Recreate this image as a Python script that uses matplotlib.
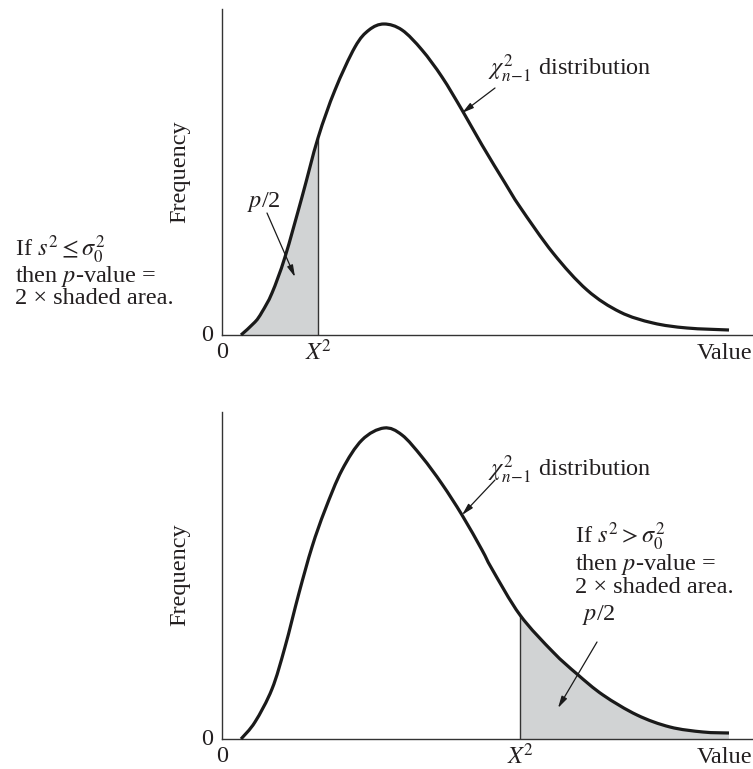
import matplotlib
matplotlib.use('Agg')
import matplotlib.pyplot as plt
import matplotlib.transforms as mtransforms
from matplotlib.path import Path
from matplotlib.patches import PathPatch
import numpy as np

W, H = 753, 769

# Curve samples (x = value units, y = frequency units)
top_x = [1.9, 3.3, 4.0, 5.0, 6.3, 8.0, 9.6, 11.3, 13.3, 14.7, 16.2, 18.0, 20.0,
         22.0, 24.0, 26.0, 28.3, 29.8, 33.1, 36.5, 39.8, 43.1, 46.5, 50.7]
top_y = [0.0, 1.3, 2.3, 4.2, 7.8, 13.8, 19.7, 24.5, 28.8, 30.5, 31.1, 30.5, 28.5,
         25.8, 22.5, 19.0, 15.2, 12.8, 8.2, 4.5, 2.3, 1.2, 0.7, 0.5]
top_crit = 9.6

bot_x = [1.9, 3.3, 5.0, 6.3, 7.7, 9.0, 10.3, 12.0, 14.0, 16.2, 18.0, 20.0, 22.0,
         24.0, 26.0, 27.0, 29.8, 33.1, 35.5, 38.1, 41.5, 44.8, 48.1, 50.7]
bot_y = [0.0, 1.7, 5.0, 9.2, 14.6, 19.2, 22.9, 26.9, 29.9, 31.1, 30.4, 28.2, 25.5,
         22.4, 18.9, 17.0, 12.4, 8.7, 6.5, 4.4, 2.4, 1.2, 0.7, 0.6]
bot_crit = 29.8

x_tick_labels = ['0', '$X^{\\!2}$']
x_axis_label = 'Value'
y_axis_label = 'Frequency'
dist_label = r'$\chi^2_{n\!-\!1}$ distribution'
area_label = '$p$/2'
left_note = ['If $s^2 \\leq \\sigma_0^2$', 'then $p$-value =', '2 \u00d7 shaded area.']
right_note = ['If $s^2 > \\sigma_0^2$', 'then $p$-value =', '2 \u00d7 shaded area.']

plt.rcParams['font.family'] = ['Liberation Serif', 'DejaVu Serif']
plt.rcParams['mathtext.fontset'] = 'stix'
FS = 17.5
TXT = '#231f20'
SHADE = '#d1d3d4'

fig = plt.figure(figsize=(W / 100, H / 100), dpi=100)


def fy(py):
    return 1 - py / H


def fx(px):
    return px / W


def smooth_segments(xs, ys):
    """Catmull-Rom style cubic Bezier control points through the read samples."""
    p = np.column_stack([xs, ys]).astype(float)
    n = len(p)
    segs = []
    for i in range(n - 1):
        p0 = p[i - 1] if i > 0 else p[i]
        p1 = p[i]
        p2 = p[i + 1]
        p3 = p[i + 2] if i + 2 < n else p[i + 1]
        c1 = p1 + (p2 - p0) / 6.0
        c2 = p2 - (p3 - p1) / 6.0
        segs.append((p1, c1, c2, p2))
    return segs


def curve_path(segs, i0, i1, close=False):
    verts = [segs[i0][0]]
    codes = [Path.MOVETO]
    for s in segs[i0:i1]:
        verts += [s[1], s[2], s[3]]
        codes += [Path.CURVE4] * 3
    if close:
        verts += [(verts[-1][0], 0.0), (verts[0][0], 0.0), verts[0]]
        codes += [Path.LINETO, Path.LINETO, Path.CLOSEPOLY]
    return Path(np.array(verts), codes)


def make_axes(top_px, bottom_px, ytop):
    ax = fig.add_axes([fx(222), fy(bottom_px), (W - 222) / W, (bottom_px - top_px) / H])
    ax.set_xlim(0, 53.1)
    ax.set_ylim(0, ytop)
    for s in ['top', 'right']:
        ax.spines[s].set_visible(False)
    for s in ['left', 'bottom']:
        ax.spines[s].set_linewidth(1.0)
        ax.spines[s].set_color('#333333')
    ax.set_xticks([])
    ax.set_yticks([])
    ax.patch.set_alpha(0)
    return ax


def draw_panel(ax, xs, ys, crit, left_tail, base_px, ytxt_px):
    xs = np.array(xs)
    ys = np.array(ys)
    segs = smooth_segments(xs, ys)
    ci = int(np.where(xs == crit)[0][0])
    if left_tail:
        fill = curve_path(segs, 0, ci, close=True)
    else:
        fill = curve_path(segs, ci, len(segs), close=True)
    ax.add_patch(PathPatch(fill, facecolor=SHADE, edgecolor='none', zorder=1))
    ax.vlines(crit, 0, ys[ci], color='#333333', lw=1.0, zorder=2)
    line = PathPatch(curve_path(segs, 0, len(segs)), facecolor='none',
                     edgecolor='#1a1a1a', lw=2.3, capstyle='butt',
                     joinstyle='round', clip_on=False, zorder=3)
    ax.add_patch(line)
    tr = mtransforms.blended_transform_factory(ax.transData, fig.transFigure)
    ax.text(0, fy(base_px + 23), x_tick_labels[0], transform=tr, ha='center',
            va='baseline', fontsize=FS, color=TXT)
    ax.text(crit, fy(base_px + 25), x_tick_labels[1], transform=tr, ha='center',
            va='baseline', fontsize=FS, color=TXT)
    fig.text(fx(752), fy(base_px + 24), x_axis_label, ha='right', va='baseline',
             fontsize=FS, color=TXT)
    fig.text(fx(213), fy(base_px + 6), '0', ha='right', va='baseline',
             fontsize=FS, color=TXT)
    fig.text(fx(180), fy(ytxt_px), y_axis_label, rotation=90, ha='center',
             va='center', fontsize=FS, color=TXT)


ax1 = make_axes(9, 335, 32.6)
draw_panel(ax1, top_x, top_y, top_crit, True, 335, 172)
ax2 = make_axes(412, 739, 32.7)
draw_panel(ax2, bot_x, bot_y, bot_crit, False, 739, 575)

arrow = dict(arrowstyle='-|>,head_length=0.7,head_width=0.18', color='#1a1a1a',
             lw=0.9, shrinkA=0, shrinkB=0)

# top panel annotations
fig.text(fx(488), fy(76), dist_label, ha='left', va='baseline', fontsize=FS, color=TXT)
ax1.annotate('', xy=(24.0, 22.2), xytext=(27.3, 24.7), arrowprops=arrow)
fig.text(fx(247), fy(207), area_label, ha='left', va='baseline', fontsize=FS, color=TXT)
ax1.annotate('', xy=(7.3, 5.8), xytext=(4.5, 12.2), arrowprops=arrow)
for line, py in zip(left_note, [257, 282, 304]):
    fig.text(fx(15), fy(py), line, ha='left', va='baseline', fontsize=FS, color=TXT)

# bottom panel annotations
fig.text(fx(488), fy(477), dist_label, ha='left', va='baseline', fontsize=FS, color=TXT)
ax2.annotate('', xy=(24.0, 22.4), xytext=(27.3, 25.9), arrowprops=arrow)
fig.text(fx(582), fy(620), area_label, ha='left', va='baseline', fontsize=FS, color=TXT)
ax2.annotate('', xy=(33.6, 3.1), xytext=(37.5, 9.7), arrowprops=arrow)
for line, py in zip(right_note, [544, 570, 593]):
    fig.text(fx(575), fy(py), line, ha='left', va='baseline', fontsize=FS, color=TXT)

fig.savefig('out.png', dpi=100, facecolor='white')
